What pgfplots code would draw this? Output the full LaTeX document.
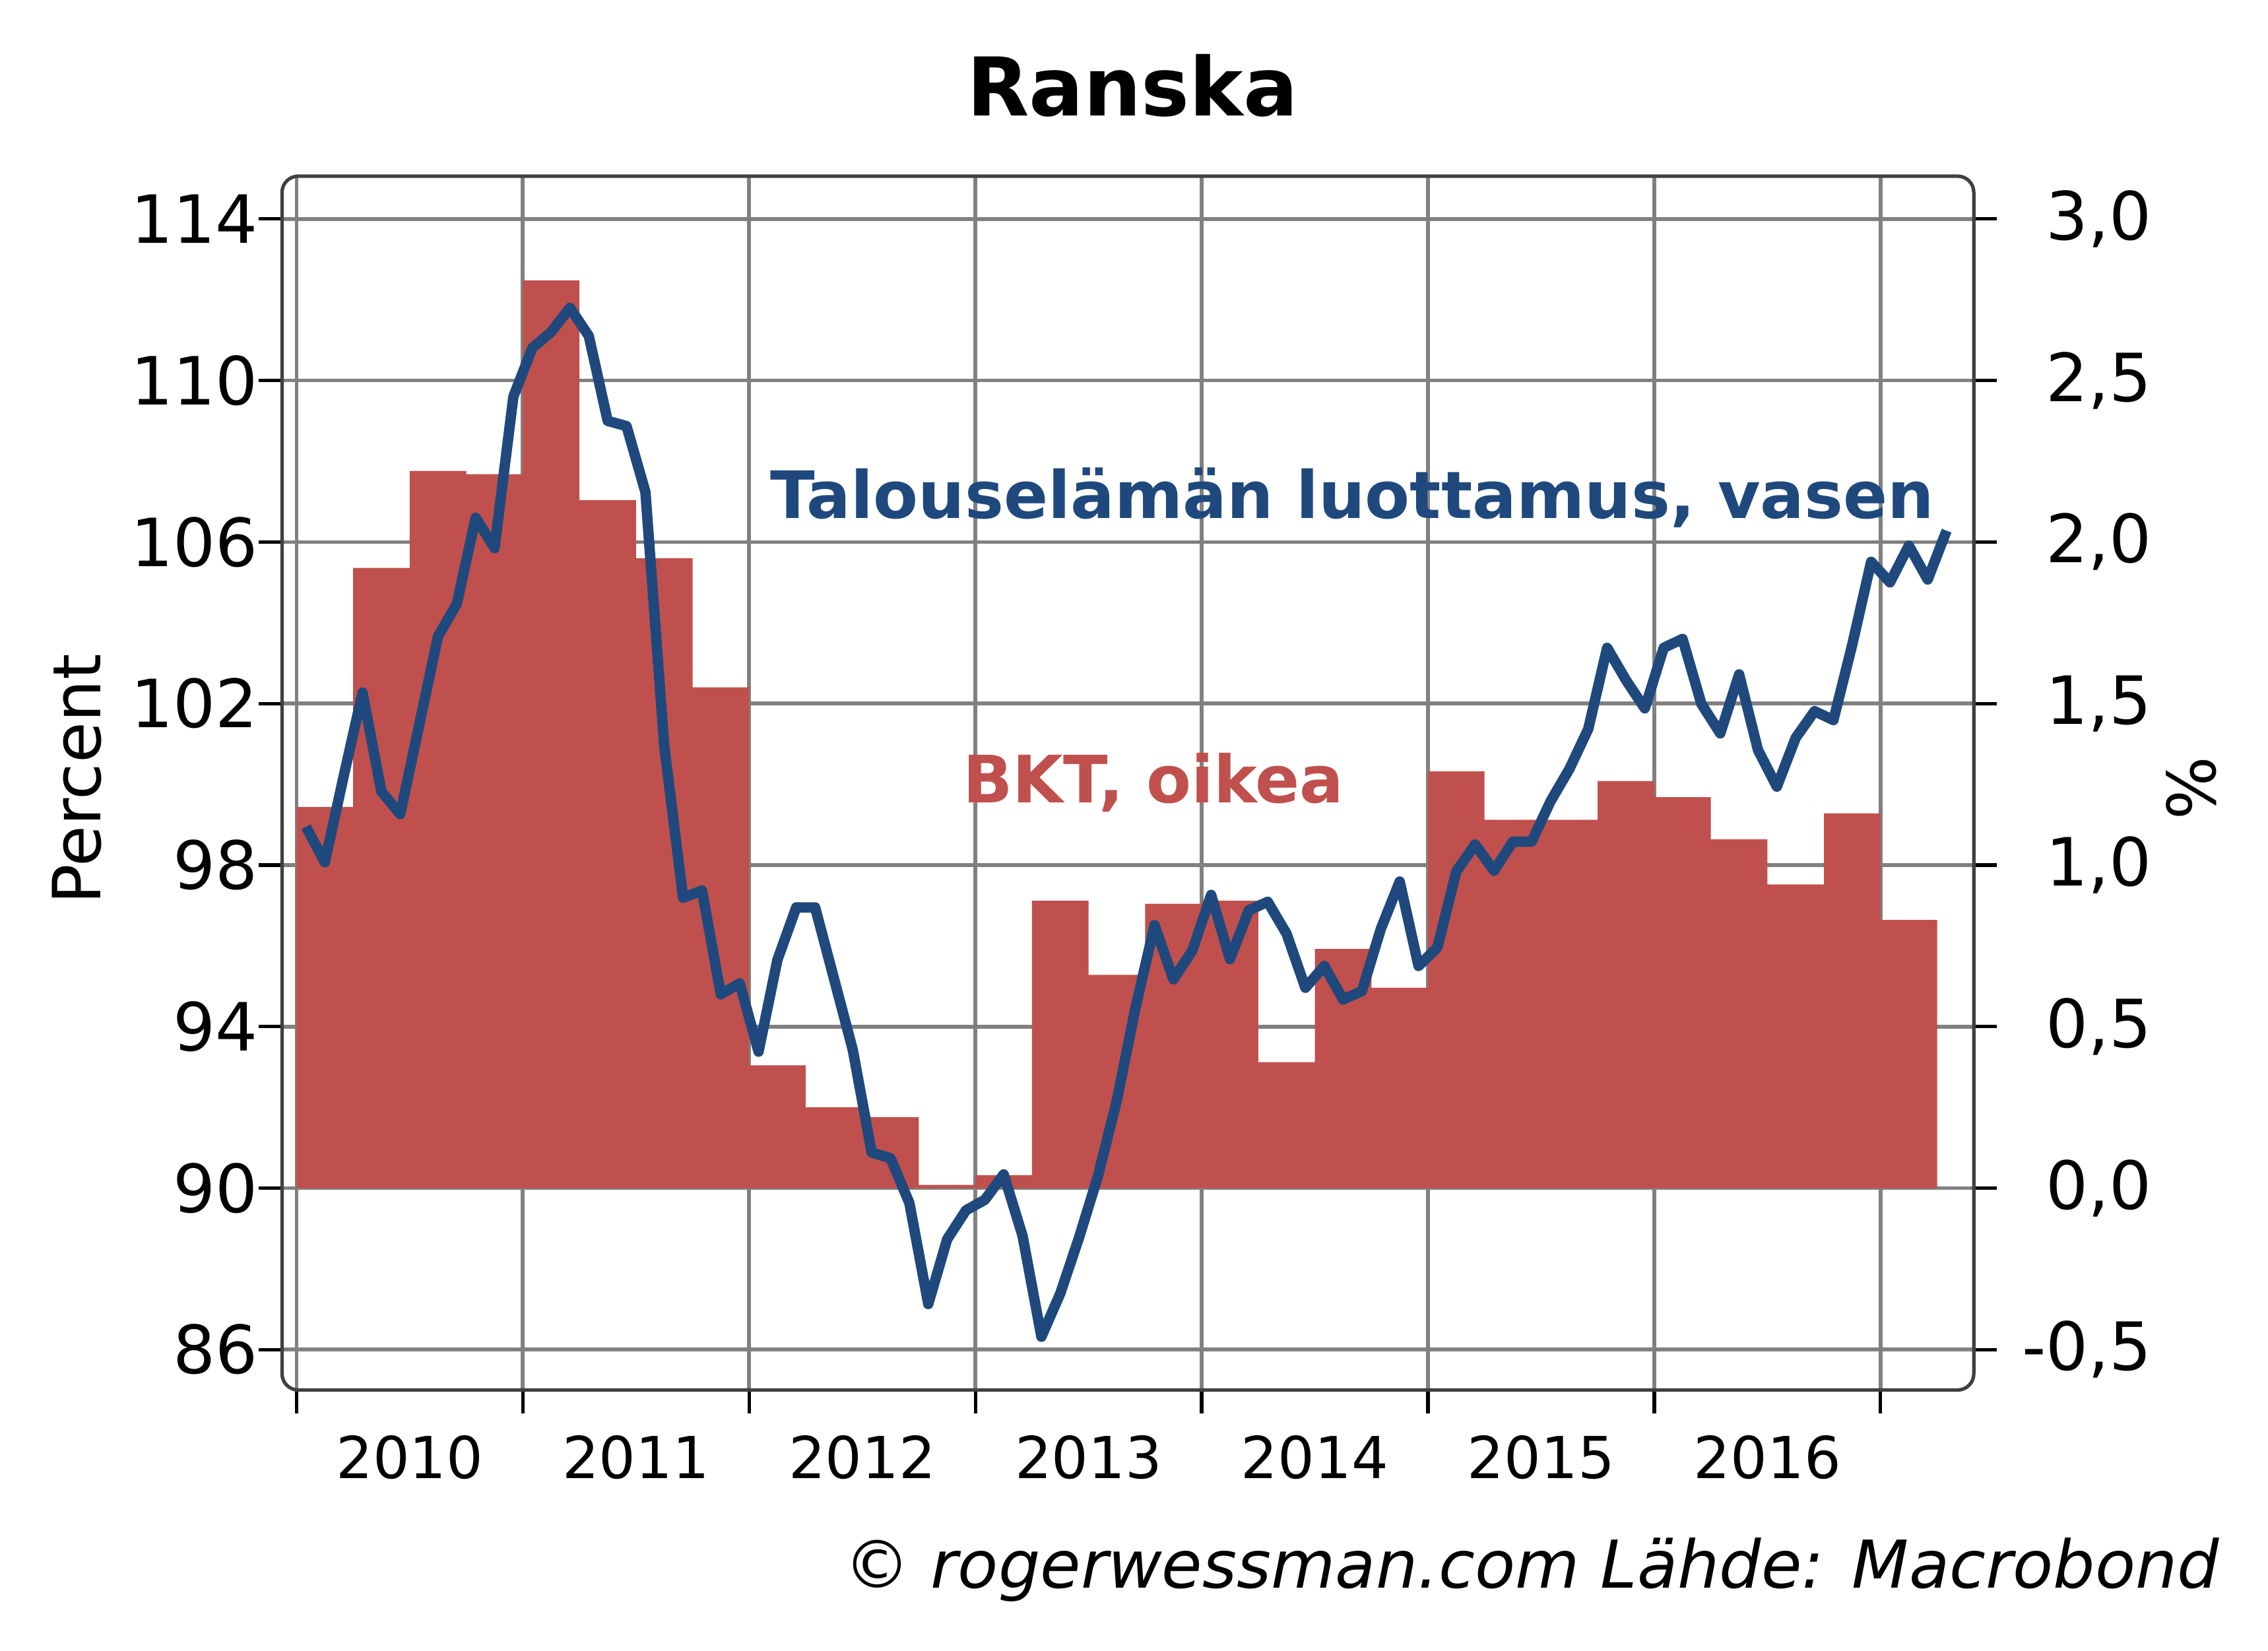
\documentclass[border=0pt]{standalone}
\usepackage{pgfplots}
\pgfplotsset{compat=1.18}
\usepackage{fontspec}
\setmainfont{DejaVu Sans}
\definecolor{lineblue}{HTML}{1F497D}
\definecolor{barred}{HTML}{C0504D}
\definecolor{framegray}{HTML}{404040}
\definecolor{gridgray}{HTML}{808080}
\newcommand{\tfont}{\fontsize{11.5bp}{13bp}\selectfont}
\begin{document}
\begin{tikzpicture}
\path[use as bounding box] (-48.75bp,-45bp) rectangle (343.25bp,240.25bp);
% ---- right axis: GDP bars (%), grid, x ticks
\begin{axis}[
  at={(0,0)}, anchor=south west,
  scale only axis, width=292.4bp, height=209.8bp,
  xmin=2009.936, xmax=2017.412,
  ymin=-0.625, ymax=3.1325,
  axis line style={draw=none},
  xtick={2010,2011,2012,2013,2014,2015,2016,2017},
  x tick label as interval,
  xticklabels={2010,2011,2012,2013,2014,2015,2016},
  xtick pos=lower,
  ytick={-0.5,0,0.5,1,1.5,2,2.5,3},
  yticklabels={{-0,5},{0,0},{0,5},{1,0},{1,5},{2,0},{2,5},{3,0}},
  ytick pos=right, yticklabel pos=right,
  grid=major, major grid style={gridgray, line width=0.65bp},
  tick align=outside, major tick length=4bp,
  tick style={black, line width=0.6bp},
  yticklabel style={font=\tfont, anchor=east, inner sep=0pt, xshift=27bp},
  xticklabel style={font=\fontsize{10bp}{12bp}\selectfont, anchor=north, inner sep=0pt, yshift=-3.7bp},
  ylabel={\%},
  ylabel style={font=\tfont, at={(axis description cs:1.1286,0.4957)}, anchor=center, rotate=0},
]
\addplot[ybar interval, fill=barred, draw=none] coordinates {
(2010.00,1.18) (2010.25,1.92) (2010.50,2.22) (2010.75,2.21)
(2011.00,2.81) (2011.25,2.13) (2011.50,1.95) (2011.75,1.55)
(2012.00,0.38) (2012.25,0.25) (2012.50,0.22) (2012.75,0.01)
(2013.00,0.04) (2013.25,0.89) (2013.50,0.66) (2013.75,0.88)
(2014.00,0.89) (2014.25,0.39) (2014.50,0.74) (2014.75,0.62)
(2015.00,1.29) (2015.25,1.14) (2015.50,1.14) (2015.75,1.26)
(2016.00,1.21) (2016.25,1.08) (2016.50,0.94) (2016.75,1.16)
(2017.00,0.83) (2017.25,0.83)
};
\end{axis}
% ---- left axis: business confidence line
\begin{axis}[
  at={(0,0)}, anchor=south west,
  scale only axis, width=292.4bp, height=209.8bp,
  xmin=2009.936, xmax=2017.412,
  ymin=85, ymax=115.06,
  clip=false,
  axis line style={draw=none},
  xtick=\empty,
  ytick={86,90,94,98,102,106,110,114},
  yticklabels={86,90,94,98,102,106,110,114},
  ytick pos=left,
  tick align=outside, major tick length=4bp,
  tick style={black, line width=0.6bp},
  yticklabel style={font=\tfont, anchor=east, inner sep=0pt},
  ylabel={Percent},
  ylabel style={font=\tfont, at={(axis description cs:-0.1214,0.503)}, anchor=center},
]
\addplot[lineblue, line width=1.8bp, line join=round] coordinates {
(2010.0417,98.95) (2010.1250,98.07) (2010.2083,100.2) (2010.2917,102.27)
(2010.3750,99.82) (2010.4583,99.26) (2010.5417,101.46) (2010.6250,103.66)
(2010.7083,104.47) (2010.7917,106.6) (2010.8750,105.85) (2010.9583,109.6)
(2011.0417,110.8) (2011.1250,111.2) (2011.2083,111.8) (2011.2917,111.1)
(2011.3750,109.0) (2011.4583,108.87) (2011.5417,107.24) (2011.6250,100.95)
(2011.7083,97.19) (2011.7917,97.37) (2011.8750,94.8) (2011.9583,95.07)
(2012.0417,93.38) (2012.1250,95.65) (2012.2083,96.95) (2012.2917,96.95)
(2012.3750,95.19) (2012.4583,93.42) (2012.5417,90.88) (2012.6250,90.74)
(2012.7083,89.63) (2012.7917,87.13) (2012.8750,88.73) (2012.9583,89.45)
(2013.0417,89.71) (2013.1250,90.34) (2013.2083,88.82) (2013.2917,86.32)
(2013.3750,87.39) (2013.4583,88.78) (2013.5417,90.3) (2013.6250,92.17)
(2013.7083,94.49) (2013.7917,96.51) (2013.8750,95.17) (2013.9583,95.88)
(2014.0417,97.26) (2014.1250,95.67) (2014.2083,96.88) (2014.2917,97.09)
(2014.3750,96.30) (2014.4583,94.96) (2014.5417,95.5) (2014.6250,94.67)
(2014.7083,94.88) (2014.7917,96.42) (2014.8750,97.59) (2014.9583,95.5)
(2015.0417,95.96) (2015.1250,97.84) (2015.2083,98.51) (2015.2917,97.86)
(2015.3750,98.58) (2015.4583,98.58) (2015.5417,99.58) (2015.6250,100.38)
(2015.7083,101.37) (2015.7917,103.38) (2015.8750,102.58) (2015.9583,101.88)
(2016.0417,103.38) (2016.1250,103.6) (2016.2083,101.99) (2016.2917,101.26)
(2016.3750,102.72) (2016.4583,100.85) (2016.5417,99.94) (2016.6250,101.15)
(2016.7083,101.81) (2016.7917,101.59) (2016.8750,103.46) (2016.9583,105.51)
(2017.0417,105.0) (2017.1250,105.91) (2017.2083,105.07) (2017.2917,106.28)
};
\node[anchor=base east, inner sep=0pt, text=lineblue, font=\bfseries\fontsize{11.3bp}{13bp}\selectfont]
  at (axis cs:2017.243,106.59) {Talouselämän luottamus, vasen};
\node[anchor=base, inner sep=0pt, text=barred, font=\bfseries\fontsize{11.3bp}{13bp}\selectfont]
  at (axis cs:2013.787,99.55) {BKT, oikea};
\draw[framegray, line width=0.6bp, rounded corners=2.8bp] (rel axis cs:0,0) rectangle (rel axis cs:1,1);
\end{axis}
\node[anchor=base, inner sep=0pt, font=\bfseries\fontsize{14bp}{16bp}\selectfont] at (147bp,220.25bp) {Ranska};
\node[anchor=base east, inner sep=0pt, font=\itshape\fontsize{11.4bp}{13bp}\selectfont] at (335bp,-34.25bp) {© rogerwessman.com Lähde: Macrobond};
\end{tikzpicture}
\end{document}
